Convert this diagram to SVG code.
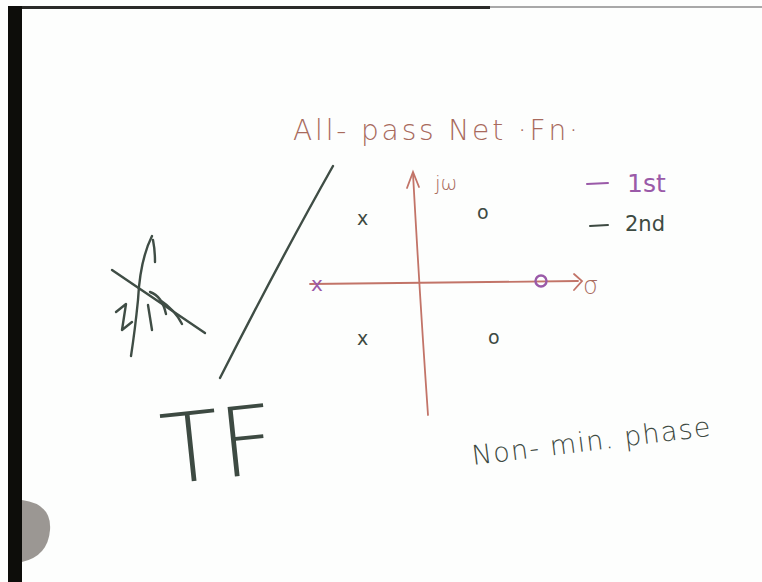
<svg xmlns="http://www.w3.org/2000/svg" width="762" height="582" viewBox="0 0 762 582">
<style>
.hand{font-family:"DejaVu Sans","Liberation Sans",sans-serif;font-weight:200}
.mark{font-family:"DejaVu Sans","Liberation Sans",sans-serif;font-weight:normal}
.pen{fill:none;stroke:#3f4d45;stroke-width:2.4;stroke-linecap:round;stroke-linejoin:round}
.axis{fill:none;stroke:#c27468;stroke-width:1.8;stroke-linecap:round}
.dark{fill:#3d4a42}
.brown{fill:#a86a5c}
.purple{fill:#9a5aa8}
</style>
<rect width="762" height="582" fill="#fdfefd"/>
<g id="frame">
<path d="M22,500 Q52,504 50,530 Q48,556 22,562 Z" fill="#8a8580" opacity="0.85"/>
<rect x="8" y="6" width="482" height="3" fill="#2a2a28"/>
<rect x="490" y="6" width="272" height="2" fill="#a8a8a8"/>
<rect x="8" y="6" width="14" height="576" fill="#0d0d0a"/>
</g>
<g id="title"><text class="hand brown" x="293" y="140" font-size="28" textLength="285" lengthAdjust="spacing">All- pass Net ·Fn·</text></g>
<g id="slash"><path class="pen" d="M333,166 Q280,260 220,378"/></g>
<g id="scribble">
<path class="pen" d="M152,236 Q140,260 138,300 Q135,330 131,356"/>
<path class="pen" d="M112,270 L205,333"/>
<path class="pen" d="M116,312 L126,304 L122,330 L132,322"/>
<path class="pen" d="M150,292 Q162,296 166,314 M148,305 L152,330 M160,300 Q175,310 182,324"/>
<path class="pen" d="M153,240 Q155,250 155,262"/>
</g>
<g id="axes">
<path class="axis" d="M428,415 Q420,300 413,174"/>
<path class="axis" d="M407,188 L413,172 L419,187" stroke-width="2.2"/>
<path class="axis" d="M310,284 L578,281"/>
<path class="axis" d="M574,274 L582,281 L574,290" stroke-width="2"/>
<text class="hand brown" x="435" y="190" font-size="20">jω</text>
<text class="hand brown" x="583" y="294" font-size="24">σ</text>
</g>
<g id="poles">
<text class="mark dark" x="357" y="225" font-size="19">x</text>
<text class="mark dark" x="357" y="345" font-size="19">x</text>
<text class="mark purple" x="311" y="291" font-size="20" font-weight="bold">x</text>
</g>
<g id="zeros">
<text class="mark dark" x="477" y="219" font-size="19">o</text>
<text class="mark dark" x="488" y="344" font-size="19">o</text>
<circle cx="541" cy="281" r="5.5" fill="none" stroke="#9a5aa8" stroke-width="2.4"/>
</g>
<g id="legend">
<path d="M587,184 L608,183" stroke="#9a5aa8" stroke-width="2" stroke-linecap="round"/>
<text class="mark purple" x="627" y="192" font-size="25">1st</text>
<path d="M590,226 L608,225" stroke="#3d4a42" stroke-width="2" stroke-linecap="round"/>
<text class="mark dark" x="625" y="231" font-size="21">2nd</text>
</g>
<g id="note"><text class="hand dark" x="473" y="465" font-size="27" transform="rotate(-7 473 465)" textLength="240" lengthAdjust="spacing">Non- min. phase</text></g>
<g id="tf"><text class="hand dark" x="165" y="484" font-size="96" transform="rotate(-6 165 484)">TF</text></g>
</svg>
